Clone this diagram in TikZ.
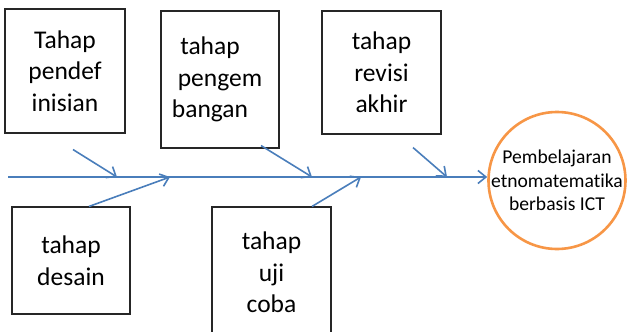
\documentclass[tikz,border=0pt]{standalone}
\usepackage{fontspec}
\setmainfont{Carlito}[Ligatures=NoCommon]
\usepackage{tikz}
\usetikzlibrary{
    arrows.meta,     % For open arrow tips (Straight Barb)
    calc             % For coordinate calculations
}
\definecolor{bonecolor}{HTML}{4A7EBB}
\definecolor{headcolor}{HTML}{F79646}
\definecolor{boxcolor}{HTML}{262626}

\begin{document}
\begin{tikzpicture}[x=1pt, y=-1pt]

    % --- Style Definitions ---
    \tikzset{
        % A style for the boxes holding the stages
        stage/.style={
            rectangle,
            draw=boxcolor,
            line width=1.1pt,
            inner sep=0pt,
            align=center,
            font=\fontsize{25.5}{31.5}\selectfont
        },
        % Text inside the circle at the head
        goaltext/.style={
            align=center,
            inner sep=0pt,
            font=\fontsize{19.6}{23.5}\selectfont
        },
        % A style for all the arrows
        arrow/.style={
            -{Straight Barb[length=8pt,width=13pt]},
            line width=1.6pt,
            bonecolor
        }
    }

    % Canvas of the reference size
    \useasboundingbox (0,0) rectangle (627,332);
    \clip (0,0) rectangle (627,332);

    % --- Node Placement ---
    % Stage boxes above the spine
    \node[stage, minimum width=120pt, minimum height=124pt] (pendef) at (65,71) {Tahap\\pendef\\inisian};
    \node[stage, minimum width=118pt, minimum height=137pt] (pengem) at (220,79.5)
        {tahap\hspace*{20pt}\\pengem\hspace*{20pt}\\bangan\hspace*{20pt}};
    \node[stage, minimum width=119pt, minimum height=123pt] (revisi) at (381.5,72.5) {tahap\\revisi\\akhir};

    % Stage boxes below the spine
    \node[stage, minimum width=118pt, minimum height=107pt] (desain) at (71,260.5) {tahap\\desain};
    \node[stage, minimum width=119pt, minimum height=131pt] (ujicoba) at (271.5,272.5) {tahap\\uji\\coba};

    % The head of the diagram
    \node[circle, draw=headcolor, line width=2.6pt, minimum size=137pt, inner sep=0pt,
          label={[goaltext]center:Pembelajaran\\etnomatematika\\berbasis ICT}] (goal) at (557,180.5) {};

    % Points on the spine where the branches meet it
    \coordinate (tail) at (8,177);
    \coordinate (j1) at (117,177);
    \coordinate (j2) at (170,177);
    \coordinate (j3) at (312,177);
    \coordinate (j4) at (361,177);
    \coordinate (j5) at (447,177);

    % --- Drawing Connections ---

    % 1. The spine
    \draw[arrow] (tail) -- (tail -| goal.west);

    % 2. Branches into the spine
    \draw[arrow] ($(pendef.south)+(8,16)$) -- (j1);
    \draw[arrow] ($(desain.north)+(18,0)$) -- (j2);
    \draw[arrow] ($(pengem.south)+(41,-3)$) -- (j3);
    \draw[arrow] ($(ujicoba.north)+(40.5,0)$) -- (j4);
    \draw[arrow] ($(revisi.south)+(31.5,13)$) -- (j5);

\end{tikzpicture}
\end{document}
